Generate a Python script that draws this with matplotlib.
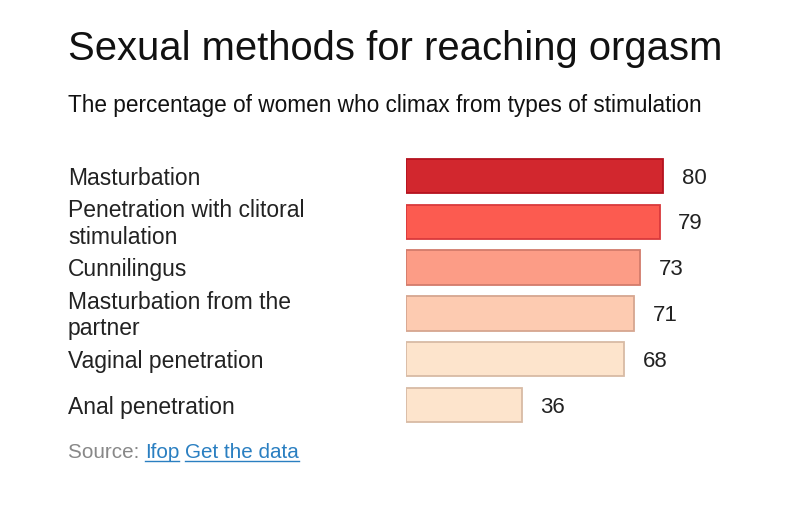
import matplotlib
matplotlib.use("Agg")
import matplotlib.pyplot as plt
from matplotlib.transforms import blended_transform_factory
from matplotlib.lines import Line2D

plt.rcParams['font.family'] = ['Liberation Sans', 'DejaVu Sans']

# data
categories = ["Masturbation", "Penetration with clitoral\nstimulation", "Cunnilingus",
              "Masturbation from the\npartner", "Vaginal penetration", "Anal penetration"]
values = [80, 79, 73, 71, 68, 36]
fill_colors = ["#d2272e", "#fc5b50", "#fc9c86", "#fdcbb1", "#fde4cc", "#fde4cc"]
edge_colors = ["#b5121f", "#d9393b", "#d27b6b", "#d6a690", "#d8bba5", "#d8bba5"]

W, H = 800, 521
fig = plt.figure(figsize=(W / 100, H / 100), dpi=100)

# axes placed so that 0 sits at x=406px and 80 ends at ~663px
ax = fig.add_axes([406 / W, 1 - 428 / H, 321 / W, 275 / H])
ax.set_xlim(0, 100)
ax.set_ylim(len(values) - 0.5, -0.5)
ypos = list(range(len(values)))
ax.barh(ypos, values, height=0.75, color=fill_colors, edgecolor=edge_colors, linewidth=1.3)
ax.axis("off")

for y, v in zip(ypos, values):
    ax.annotate(str(v), (v, y), xytext=(13.5, -1.5), textcoords="offset points",
                ha="left", va="center", fontsize=16, color="#222222")

trans = blended_transform_factory(fig.transFigure, ax.transData)
for y, lab in zip(ypos, categories):
    ax.annotate(lab, (68 / W, y), xycoords=trans, xytext=(0, -1.5),
                textcoords="offset points", ha="left", va="center",
                fontsize=16.5, color="#222222", linespacing=1.22)

fig.text(68 / W, 1 - 60 / H, "Sexual methods for reaching orgasm", fontsize=28.8,
         color="#111111", ha="left", va="baseline")
fig.text(68 / W, 1 - 112 / H, "The percentage of women who climax from types of stimulation",
         fontsize=16.3, color="#111111", ha="left", va="baseline")

# source line with underlined links
fig.canvas.draw()
r = fig.canvas.get_renderer()
base = 1 - 458 / H
t = fig.text(68 / W, base, "Source: ", fontsize=14.9, color="#888888", va="baseline")
x = t.get_window_extent(r).x1 / W
for part in ["Ifop", "Get the data"]:
    lt = fig.text(x, base, part, fontsize=14.9, color="#2a7fc1", va="baseline")
    bb = lt.get_window_extent(r)
    fig.add_artist(Line2D([bb.x0 / W, bb.x1 / W], [base - 3 / H, base - 3 / H],
                          transform=fig.transFigure, color="#2a7fc1", linewidth=1))
    x = (bb.x1 + 6) / W

fig.savefig("out.png", dpi=100)
